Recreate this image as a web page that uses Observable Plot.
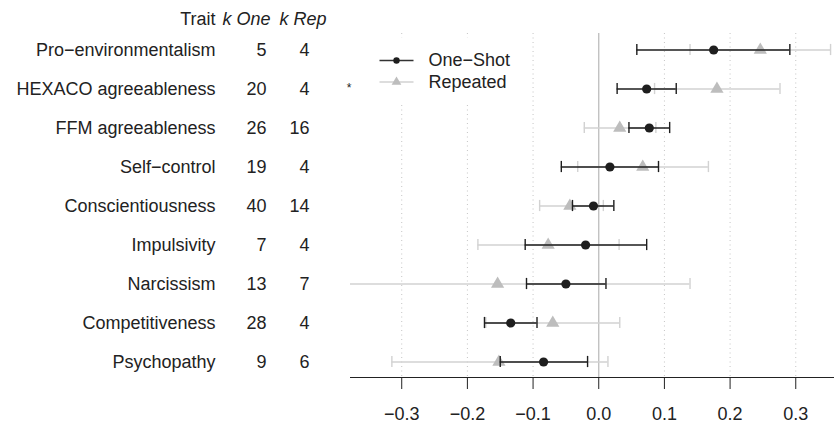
<!DOCTYPE html>
<html>
<head>
<meta charset="utf-8">
<script src="https://cdn.jsdelivr.net/npm/d3@7"></script>
<script src="https://cdn.jsdelivr.net/npm/@observablehq/plot@0.6"></script>
<style>
  html, body { margin: 0; padding: 0; background: #fff; }
  #chart { width: 834px; height: 425px; }
</style>
</head>
<body>
<div id="chart"></div>
<script>
// ---- data ----
const traits = ["Pro−environmentalism", "HEXACO agreeableness", "FFM agreeableness", "Self−control",
  "Conscientiousness", "Impulsivity", "Narcissism", "Competitiveness", "Psychopathy"];
const kOne = [5, 20, 26, 19, 40, 7, 13, 28, 9];
const kRep = [4, 4, 16, 4, 14, 4, 7, 4, 6];
const sig = ["", "*", "", "", "", "", "", "", ""];
const oneEst = [0.175, 0.073, 0.077, 0.017, -0.008, -0.020, -0.050, -0.134, -0.084];
const oneLo  = [0.058, 0.028, 0.046, -0.057, -0.040, -0.112, -0.110, -0.174, -0.150];
const oneHi  = [0.291, 0.118, 0.108, 0.091, 0.023, 0.073, 0.011, -0.094, -0.017];
const repEst = [0.246, 0.180, 0.032, 0.067, -0.044, -0.077, -0.154, -0.070, -0.152];
const repLo  = [0.139, 0.085, -0.022, -0.032, -0.090, -0.184, -0.447, -0.172, -0.315];
const repHi  = [0.353, 0.276, 0.087, 0.167, 0.007, 0.031, 0.139, 0.032, 0.014];
const headers = ["Trait", "k One", "k Rep"];
const legendLabels = ["One−Shot", "Repeated"];
const xTicks = [-0.3, -0.2, -0.1, 0.0, 0.1, 0.2, 0.3];

const rows = traits.map((t, i) => ({
  trait: t, kOne: kOne[i], kRep: kRep[i], sig: sig[i],
  oneEst: oneEst[i], oneLo: oneLo[i], oneHi: oneHi[i],
  repEst: repEst[i], repLo: repLo[i], repHi: repHi[i]
}));

// ---- styles ----
const dark = "#1e1e1e";
const greyLine = "#d2d2d2";
const greyMark = "#bdbdbd";
const capInset = 13.9;

const hline = {draw(ctx) { ctx.moveTo(-17, 0); ctx.lineTo(17, 0); }};
const boxSym = {draw(ctx) { ctx.rect(-77, -33, 154, 66); }};

const chart = Plot.plot({
  width: 834,
  height: 425,
  marginLeft: 350,
  marginRight: 0,
  marginTop: 33,
  marginBottom: 48,
  style: {fontFamily: "'Liberation Sans', Arial, Helvetica, sans-serif", fontSize: "18px", color: "#222", background: "#fff"},
  x: {domain: [-0.378, 0.359], ticks: xTicks, tickFormat: d3.format(".1f"), tickSize: 12, tickPadding: 18, label: null, line: true},
  y: {type: "band", domain: traits, range: [46 - 19.875, 364 + 19.875], padding: 0, axis: null},
  marks: [
    Plot.ruleX(xTicks.filter(d => d !== 0), {stroke: "#c4c4c4", strokeDasharray: "1,3.5", strokeWidth: 1}),
    Plot.ruleX([0], {stroke: "#bdbdbd", strokeWidth: 1.3}),
    // legend background
    Plot.dot([legendLabels[0]], {frameAnchor: "top-left", dx: 95, dy: 37, symbol: boxSym, fill: "#fff", stroke: "none"}),
    // repeated
    Plot.ruleY(rows, {y: "trait", x1: "repLo", x2: "repHi", stroke: greyLine, strokeWidth: 1.4, clip: true}),
    Plot.tickX(rows, {x: "repLo", y: "trait", stroke: greyLine, strokeWidth: 1.4, insetTop: capInset, insetBottom: capInset, clip: true}),
    Plot.tickX(rows, {x: "repHi", y: "trait", stroke: greyLine, strokeWidth: 1.4, insetTop: capInset, insetBottom: capInset, clip: true}),
    Plot.dot(rows, {x: "repEst", y: "trait", symbol: "triangle", r: 4.9, fill: greyMark, stroke: "none"}),
    // one-shot
    Plot.ruleY(rows, {y: "trait", x1: "oneLo", x2: "oneHi", stroke: dark, strokeWidth: 1.4}),
    Plot.tickX(rows, {x: "oneLo", y: "trait", stroke: dark, strokeWidth: 1.4, insetTop: capInset, insetBottom: capInset}),
    Plot.tickX(rows, {x: "oneHi", y: "trait", stroke: dark, strokeWidth: 1.4, insetTop: capInset, insetBottom: capInset}),
    Plot.dot(rows, {x: "oneEst", y: "trait", r: 4.6, fill: dark, stroke: "none"}),
    // left table
    Plot.text(rows, {y: "trait", text: "trait", frameAnchor: "left", dx: -135, textAnchor: "end", lineAnchor: "middle", fill: "#222"}),
    Plot.text(rows, {y: "trait", text: "kOne", frameAnchor: "left", dx: -84, textAnchor: "end", lineAnchor: "middle", fill: "#222"}),
    Plot.text(rows, {y: "trait", text: "kRep", frameAnchor: "left", dx: -41, textAnchor: "end", lineAnchor: "middle", fill: "#222"}),
    Plot.text(rows, {y: "trait", text: "sig", frameAnchor: "left", dx: -1.5, dy: -1, textAnchor: "middle", lineAnchor: "middle", fontSize: 12, fill: "#222"}),
    // headers
    Plot.text([headers[0]], {text: d => d, frameAnchor: "top-left", dx: -135, dy: -14.5, textAnchor: "end", lineAnchor: "middle", fill: "#222"}),
    Plot.text([headers[1]], {text: d => d, frameAnchor: "top-left", dx: -80, dy: -14.5, textAnchor: "end", lineAnchor: "middle", fontStyle: "italic", fill: "#222"}),
    Plot.text([headers[2]], {text: d => d, frameAnchor: "top-left", dx: -24, dy: -14.5, textAnchor: "end", lineAnchor: "middle", fontStyle: "italic", fill: "#222"}),
    // legend
    Plot.dot([legendLabels[0]], {frameAnchor: "top-left", dx: 46, dy: 27, symbol: hline, fill: "none", stroke: "#333", strokeWidth: 1.5}),
    Plot.dot([legendLabels[0]], {frameAnchor: "top-left", dx: 46, dy: 27, r: 3.2, fill: dark, stroke: "none"}),
    Plot.dot([legendLabels[1]], {frameAnchor: "top-left", dx: 46, dy: 48.5, symbol: hline, fill: "none", stroke: greyLine, strokeWidth: 1.5}),
    Plot.dot([legendLabels[1]], {frameAnchor: "top-left", dx: 46, dy: 48.5, symbol: "triangle", r: 3.6, fill: greyMark, stroke: "none"}),
    Plot.text([legendLabels[0]], {text: d => d, frameAnchor: "top-left", dx: 78, dy: 27, textAnchor: "start", lineAnchor: "middle", fill: "#222"}),
    Plot.text([legendLabels[1]], {text: d => d, frameAnchor: "top-left", dx: 78, dy: 48.5, textAnchor: "start", lineAnchor: "middle", fill: "#222"})
  ]
});
document.getElementById("chart").appendChild(chart);
</script>
</body>
</html>
